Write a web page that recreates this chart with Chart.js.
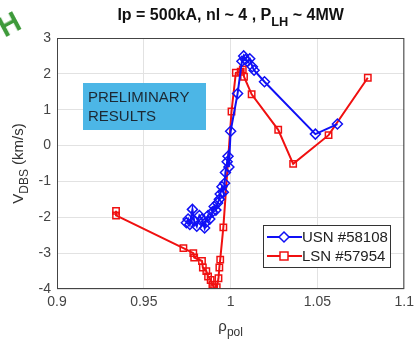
<!DOCTYPE html>
<html>
<head>
<meta charset="utf-8">
<script src="https://cdn.jsdelivr.net/npm/chart.js@4.4.1/dist/chart.umd.min.js"></script>
<style>
  html, body { margin: 0; padding: 0; background: #fff; }
  #wrap { position: relative; width: 419px; height: 342px; }
  #mark { position: absolute; left: -1px; top: 8px; font: bold 29px "Liberation Sans", Arial, sans-serif;
          color: #3e9a3a; transform: rotate(-28deg); }
</style>
</head>
<body>
<div id="wrap">
  <canvas id="chart" width="419" height="342"></canvas>
  <div id="mark">H</div>
</div>
<script>
// USN #58108 (blue diamonds)
const usnRho = [0.9745, 0.9755, 0.9765, 0.978, 0.979, 0.9805, 0.982, 0.9835, 0.985, 0.9855, 0.987, 0.988,
  0.9895, 0.9905, 0.9915, 0.9925, 0.9935, 0.994, 0.995, 0.9958, 0.9965, 0.997, 0.998, 0.9985, 0.999,
  1.0, 1.004, 1.0065, 1.0075, 1.0085, 1.0095, 1.011, 1.0125, 1.0135, 1.0195, 1.0488, 1.0615];
const usnV = [-2.15, -2.05, -2.2, -1.78, -2.1, -2.25, -1.95, -2.05, -2.3, -2.15, -1.95, -2.05,
  -1.85, -1.7, -1.8, -1.6, -1.5, -1.35, -1.15, -1.3, -1.05, -0.75, -0.45, -0.3, -0.6,
  0.4, 1.45, 2.35, 2.5, 2.4, 2.35, 2.42, 2.2, 2.1, 1.78, 0.32, 0.6];

// LSN #57954 (red squares)
const lsnRho = [0.934, 0.934, 0.9728, 0.9785, 0.979, 0.9835, 0.984, 0.986, 0.987, 0.9885, 0.9895, 0.9905,
  0.992, 0.993, 0.9935, 0.994, 0.9958, 1.0005, 1.003, 1.0058, 1.007, 1.0077, 1.0121, 1.0274, 1.036, 1.0564, 1.079];
const lsnV = [-1.82, -1.95, -2.86, -3.0, -3.12, -3.22, -3.4, -3.5, -3.65, -3.75, -3.88, -3.97,
  -3.95, -3.7, -3.4, -3.18, -2.28, 0.95, 2.03, 2.06, 2.12, 1.92, 1.43, 0.44, -0.51, 0.29, 1.89];

const xTicks = [0.9, 0.95, 1, 1.05, 1.1];
const yTicks = [-4, -3, -2, -1, 0, 1, 2, 3];

const usnLabel = 'USN #58108';
const lsnLabel = 'LSN #57954';

const BLUE = '#1010f5';
const RED = '#f01010';
const FONT = '"Liberation Sans", Arial, sans-serif';

function pts(xs, ys) { return xs.map((x, i) => ({x: x, y: ys[i]})); }

// text with a subscript part
function subText(ctx, parts, x, y, size, bold, align) {
  ctx.save();
  const w = parts.reduce((acc, p) => {
    ctx.font = (bold ? 'bold ' : '') + (p.sub ? size * 0.8 : size) + 'px ' + FONT;
    return acc + ctx.measureText(p.t).width;
  }, 0);
  let cx = align === 'center' ? x - w / 2 : x;
  ctx.textAlign = 'left';
  ctx.textBaseline = 'alphabetic';
  parts.forEach(p => {
    ctx.font = (bold ? 'bold ' : '') + (p.sub ? size * 0.8 : size) + 'px ' + FONT;
    ctx.fillText(p.t, cx, p.sub ? y + size * 0.35 : y);
    cx += ctx.measureText(p.t).width;
  });
  ctx.restore();
}

const extras = {
  id: 'extras',
  afterDraw(chart) {
    const ctx = chart.ctx;
    const a = chart.chartArea;
    // axes box
    ctx.save();
    ctx.strokeStyle = '#444';
    ctx.lineWidth = 1;
    ctx.strokeRect(a.left + 0.5, a.top + 0.5, a.right - a.left - 1, a.bottom - a.top - 1);
    ctx.restore();

    // title
    ctx.fillStyle = '#111';
    subText(ctx, [{t: 'Ip = 500kA, nl ~ 4 , P'}, {t: 'LH', sub: true}, {t: ' ~ 4MW'}],
      (a.left + a.right) / 2, 20, 16, true, 'center');

    // x label
    ctx.fillStyle = '#333';
    subText(ctx, [{t: 'ρ'}, {t: 'pol', sub: true}], (a.left + a.right) / 2, 331, 15, false, 'center');

    // y label
    ctx.save();
    ctx.translate(23, (a.top + a.bottom) / 2);
    ctx.rotate(-Math.PI / 2);
    subText(ctx, [{t: 'V'}, {t: 'DBS', sub: true}, {t: ' (km/s)'}], 0, 0, 15, false, 'center');
    ctx.restore();

    // preliminary box
    ctx.save();
    ctx.fillStyle = '#4cb6e6';
    ctx.fillRect(83, 83, 123, 47);
    ctx.fillStyle = '#1c2833';
    ctx.font = '15px ' + FONT;
    ctx.textBaseline = 'alphabetic';
    ctx.fillText('PRELIMINARY', 88, 102);
    ctx.fillText('RESULTS', 88, 121);
    ctx.restore();

    // legend
    ctx.save();
    ctx.fillStyle = '#fff';
    ctx.fillRect(263, 225, 127, 42);
    ctx.strokeStyle = '#333';
    ctx.lineWidth = 1;
    ctx.strokeRect(263.5, 225.5, 127, 42);
    const rows = [{label: usnLabel, c: BLUE, y: 237, shape: 'd'}, {label: lsnLabel, c: RED, y: 256, shape: 's'}];
    rows.forEach(r => {
      ctx.strokeStyle = r.c;
      ctx.lineWidth = 2;
      ctx.beginPath();
      ctx.moveTo(267, r.y);
      ctx.lineTo(302, r.y);
      ctx.stroke();
      ctx.fillStyle = '#fff';
      ctx.lineWidth = 1.5;
      ctx.beginPath();
      if (r.shape === 'd') {
        ctx.moveTo(284, r.y - 5); ctx.lineTo(289, r.y); ctx.lineTo(284, r.y + 5); ctx.lineTo(279, r.y);
        ctx.closePath();
      } else {
        ctx.rect(280, r.y - 4, 8, 8);
      }
      ctx.fill();
      ctx.stroke();
      ctx.fillStyle = '#222';
      ctx.font = '15px ' + FONT;
      ctx.textBaseline = 'middle';
      ctx.fillText(r.label, 302, r.y + 1);
    });
    ctx.restore();
  }
};

new Chart(document.getElementById('chart').getContext('2d'), {
  type: 'scatter',
  data: {
    datasets: [
      {
        label: usnLabel,
        data: pts(usnRho, usnV),
        showLine: true,
        borderColor: BLUE,
        backgroundColor: 'rgba(0,0,0,0)',
        borderWidth: 2,
        pointStyle: 'rectRot',
        pointRadius: 5,
        pointBorderWidth: 1.5,
        pointBorderColor: BLUE
      },
      {
        label: lsnLabel,
        data: pts(lsnRho, lsnV),
        showLine: true,
        borderColor: RED,
        backgroundColor: 'rgba(0,0,0,0)',
        borderWidth: 2,
        pointStyle: 'rect',
        pointRadius: 4.5,
        pointBorderWidth: 1.5,
        pointBorderColor: RED
      }
    ]
  },
  options: {
    responsive: false,
    animation: false,
    layout: { padding: { left: 0, top: 38, right: 13, bottom: 0 } },
    plugins: { legend: { display: false }, tooltip: { enabled: false }, title: { display: false } },
    scales: {
      x: {
        type: 'linear',
        min: 0.9, max: 1.1,
        afterBuildTicks: s => { s.ticks = xTicks.map(v => ({value: v})); },
        afterFit: s => { s.height = 53; },
        grid: { color: '#e2e2e2', drawTicks: false },
        border: { display: false },
        ticks: { padding: 5, color: '#444', font: { family: FONT, size: 14 },
                 callback: v => String(v) }
      },
      y: {
        type: 'linear',
        min: -4, max: 3,
        afterBuildTicks: s => { s.ticks = yTicks.map(v => ({value: v})); },
        afterFit: s => { s.width = 57; },
        grid: { color: '#e2e2e2', drawTicks: false },
        border: { display: false },
        ticks: { padding: 6, color: '#444', font: { family: FONT, size: 14 } }
      }
    }
  },
  plugins: [extras]
});
</script>
</body>
</html>
